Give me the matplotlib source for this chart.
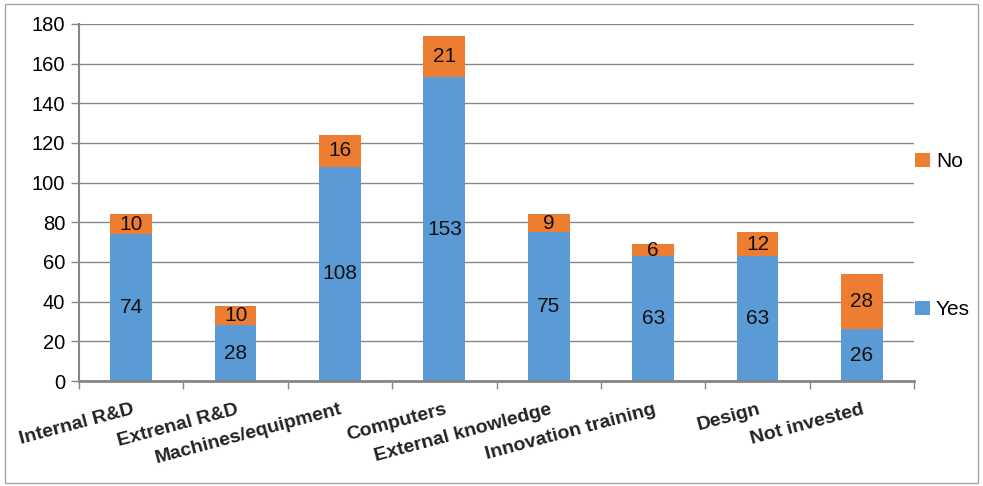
import matplotlib
matplotlib.use("Agg")
import matplotlib.pyplot as plt
from matplotlib.patches import Rectangle
from matplotlib import font_manager as fm
import numpy as np

categories = ["Internal R&D", "Extrenal R&D", "Machines/equipment", "Computers",
              "External knowledge", "Innovation training", "Design", "Not invested"]
yes_vals = [74, 28, 108, 153, 75, 63, 63, 26]
no_vals = [10, 10, 16, 21, 9, 6, 12, 28]
yticks = [0, 20, 40, 60, 80, 100, 120, 140, 160, 180]

avail = {f.name for f in fm.fontManager.ttflist}
narrow = "Liberation Sans Narrow" if "Liberation Sans Narrow" in avail else "Liberation Sans"
plt.rcParams['font.family'] = [narrow, 'DejaVu Sans']

BLUE = "#5B9BD5"
ORANGE = "#ED7D31"
GRID = "#868686"

fig = plt.figure(figsize=(9.83, 4.86), dpi=100)
ax = fig.add_axes([0.0804, 0.216, 0.8495, 0.735])

x = np.arange(len(categories))
w = 0.4
b1 = ax.bar(x, yes_vals, width=w, color=BLUE, label="Yes", zorder=3)
b2 = ax.bar(x, no_vals, width=w, bottom=yes_vals, color=ORANGE, label="No", zorder=3)

for xi, yv, nv in zip(x, yes_vals, no_vals):
    ax.text(xi, yv / 2, str(yv), ha='center', va='center', fontsize=15, color='#111111', zorder=4)
    ax.text(xi, yv + nv / 2, str(nv), ha='center', va='center', fontsize=15, color='#111111', zorder=4)

ax.set_xlim(-0.5, len(categories) - 0.5)
ax.set_ylim(0, 180)
ax.set_yticks(yticks)
ax.set_yticklabels([str(t) for t in yticks], fontsize=14.5)
ax.yaxis.grid(True, color=GRID, linewidth=1.0, zorder=0)
ax.tick_params(axis='y', length=6, color=GRID, width=1.0, pad=4)

ax.set_xticks(x)
ax.set_xticklabels([])
ax.tick_params(axis='x', which='major', length=0)
ax.set_xticks(np.arange(-0.5, len(categories) + 0.5, 1), minor=True)
ax.tick_params(axis='x', which='minor', length=6, color=GRID, width=1.0)

for xi, c in zip(x, categories):
    ax.text(xi, -10, c, rotation=15, rotation_mode='anchor', ha='right', va='top',
            fontsize=14, fontweight='bold', color='#222222', transform=ax.transData, clip_on=False)

for s in ['top', 'right']:
    ax.spines[s].set_visible(False)
ax.spines['left'].set_color(GRID)
ax.spines['left'].set_linewidth(1.5)
ax.spines['bottom'].set_color(GRID)
ax.spines['bottom'].set_linewidth(2.0)
ax.spines['bottom'].set_zorder(5)

handles = [b2, b1]
fig.legend(handles, ["No", "Yes"], loc='upper left', bbox_to_anchor=(0.931, 0.687),
           frameon=False, fontsize=15, labelspacing=6.2, handlelength=0.7,
           handleheight=0.7, handletextpad=0.3, borderpad=0, borderaxespad=0)

fig.patches.append(Rectangle((0.005, 0.006), 0.99, 0.986, transform=fig.transFigure,
                             fill=False, edgecolor='#A6A6A6', linewidth=1.0))

fig.savefig("out.png", dpi=100)
